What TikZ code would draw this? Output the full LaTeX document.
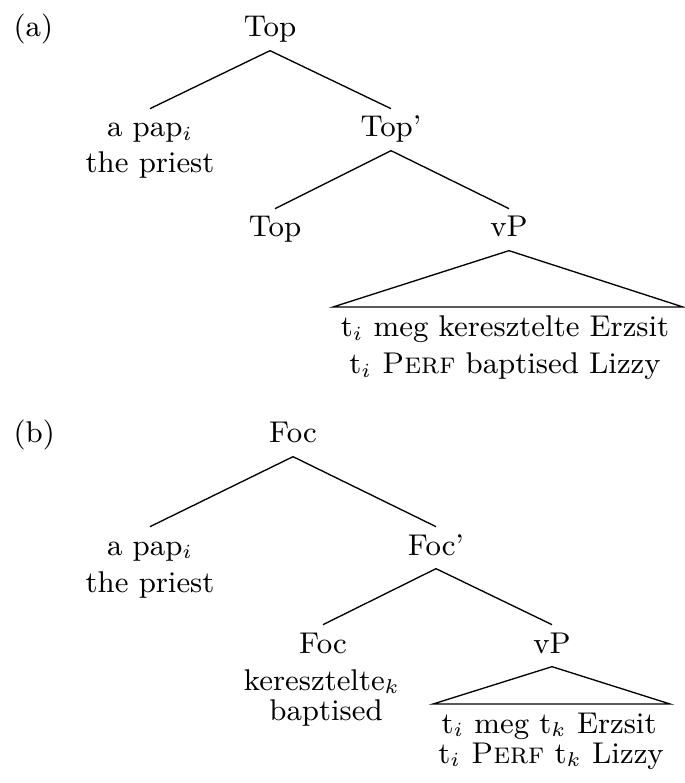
\documentclass[tikz,border=0pt]{standalone}
\usepackage{tikz}
\usetikzlibrary{positioning}

\tikzset{
  cat/.style={anchor=base, inner sep=1.4pt, text height=6.9pt, text depth=2.5pt},
  gloss/.style={anchor=base, inner sep=0pt},
  branch/.style={draw=black, line width=0.4pt}
}

\begin{document}
\begin{tikzpicture}[x=0.3pt,y=-0.3pt,font=\fontsize{9}{11}\selectfont]
        \useasboundingbox (0,0) rectangle (684,783);

        % (a)
        \node[gloss, anchor=base west] (lbla) at (13,37) {(a)};
        \node[cat] (topa) at (270,37) {Top};
        \node[cat] (papa) at (150,137) {a pap$_i$};
        \node[gloss] (papglossa) at (150,173) {the priest};
        \node[cat] (topbar) at (391,137) {Top'};
        \node[cat] (tophead) at (275,237) {Top};
        \node[cat] (vpa) at (509,237) {vP};
        \coordinate (vpaleft) at (333,307);
        \coordinate (vparight) at (683,307);
        \node[gloss] (vptexta) at (505,337) {t$_i$ meg keresztelte Erzsit};
        \node[gloss] (vpglossa) at (505,374) {t$_i$ \textsc{Perf} baptised Lizzy};

        \draw[branch] (topa.south) -- (papa.north);
        \draw[branch] (topa.south) -- (topbar.north);
        \draw[branch] (topbar.south) -- (tophead.north);
        \draw[branch] (topbar.south) -- (vpa.north);
        \draw[branch] (vpa.south) -- (vpaleft) -- (vparight) -- cycle;

        % (b)
        \node[gloss, anchor=base west] (lblb) at (13,443) {(b)};
        \node[cat] (focb) at (293,443) {Foc};
        \node[cat] (papb) at (150,555) {a pap$_i$};
        \node[gloss] (papglossb) at (150,592) {the priest};
        \node[cat] (focbar) at (436,555) {Foc'};
        \node[cat] (fochead) at (323,653) {Foc};
        \node[gloss] (verbb) at (322,690) {keresztelte$_k$};
        \node[gloss] (verbglossb) at (326,720) {baptised};
        \node[cat] (vpb) at (552,653) {vP};
        \coordinate (vpbleft) at (433,704);
        \coordinate (vpbright) at (670,704);
        \node[gloss] (vptextb) at (549,733) {t$_i$ meg t$_k$ Erzsit};
        \node[gloss] (vpglossb) at (551,763) {t$_i$ \textsc{Perf} t$_k$ Lizzy};

        \draw[branch] (focb.south) -- (papb.north);
        \draw[branch] (focb.south) -- (focbar.north);
        \draw[branch] (focbar.south) -- (fochead.north);
        \draw[branch] (focbar.south) -- (vpb.north);
        \draw[branch] (vpb.south) -- (vpbleft) -- (vpbright) -- cycle;

        \end{tikzpicture}
\end{document}
